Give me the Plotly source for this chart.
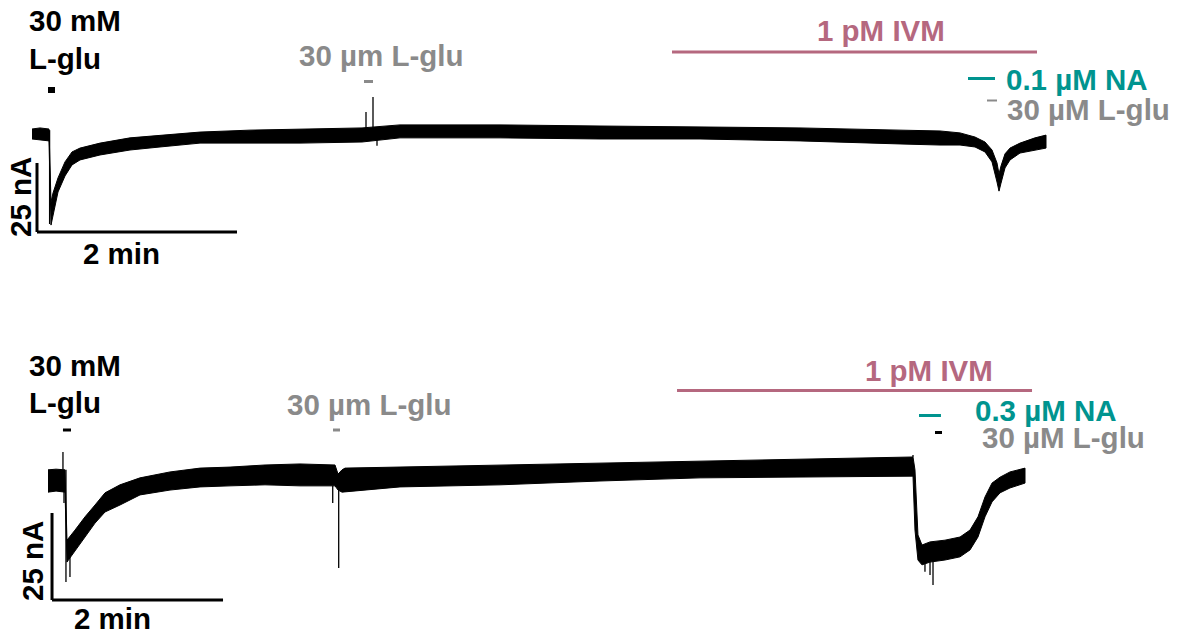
import plotly.graph_objects as go

# ---------------- DATA (time in min, current in nA relative to baseline) ----------------
# Panel A (0.1 µM NA)
tA = [0.00, 0.08, 0.17, 0.19, 0.21, 0.26, 0.33, 0.40, 0.48, 0.68, 0.98, 1.28, 1.68, 2.18, 2.68,
      3.30, 3.68, 4.68, 5.68, 6.68, 7.68, 8.68, 9.08, 9.28, 9.43, 9.53, 9.60, 9.65, 9.67, 9.69,
      9.73, 9.78, 9.88, 10.03, 10.14]
upA = [1.8, 2.2, 1.8, -24.6, -21.4, -15.9, -10.1, -6.5, -5.1, -3.3, -1.4, -0.4, 0.7, 1.4, 1.8,
       2.2, 3.3, 3.3, 2.9, 2.5, 2.2, 1.4, 1.1, 0.4, -1.1, -2.9, -5.8, -10.5, -14.5, -11.6,
       -7.2, -5.1, -3.3, -1.4, -0.4]
loA = [-1.8, -2.2, -2.5, -33.0, -29.0, -21.0, -15.2, -11.2, -9.4, -7.6, -5.8, -4.7, -3.3, -3.3, -3.3,
       -2.9, -1.4, -1.4, -1.8, -1.8, -2.5, -3.6, -4.0, -4.0, -4.7, -6.5, -10.1, -17.4, -20.7, -17.8,
       -12.3, -9.4, -6.9, -5.8, -5.1]
spikeA_t = [0.176, 3.34, 3.41, 3.45]
spikeA_from = [1.4, -0.5, -0.5, -2.0]
spikeA_to = [-32.6, 8.0, 13.4, -4.3]

# Panel B (0.3 µM NA)
tB = [0.000, 0.094, 0.199, 0.222, 0.316, 0.433, 0.550, 0.667, 0.842, 1.076, 1.427, 1.778, 2.129,
      2.538, 2.947, 3.357, 3.392, 3.439, 3.474, 4.117, 5.287, 6.456, 7.626, 8.795, 10.117, 10.140,
      10.175, 10.222, 10.316, 10.491, 10.667, 10.784, 10.877, 10.959, 11.041, 11.135, 11.251, 11.427]
upB = [3.2, 3.4, 3.2, -17.0, -14.1, -10.3, -6.9, -3.4, -1.1, 0.9, 2.6, 3.7, 4.0,
       4.6, 4.9, 4.6, 2.0, 3.2, 3.7, 4.0, 4.6, 5.2, 5.7, 6.3, 6.9, 3.2,
       -15.5, -18.4, -17.5, -17.0, -16.1, -14.1, -10.3, -4.6, -0.6, 1.1, 2.6, 3.7]
loB = [-3.2, -2.9, -3.2, -23.3, -19.8, -16.1, -12.1, -8.9, -6.9, -4.0, -2.6, -1.7, -1.4,
       -1.1, -1.4, -1.4, -2.6, -3.2, -3.2, -1.7, -1.1, 0.0, 0.9, 1.1, 1.4, -14.1,
       -22.7, -24.1, -23.3, -22.7, -21.8, -19.8, -16.1, -10.3, -6.0, -3.4, -2.0, -0.6]
spikeB_t = [0.175, 0.187, 0.21, 0.257, 3.33, 3.40, 10.117, 10.257, 10.316, 10.351]
spikeB_from = [3.2, -3.0, 3.2, -20.0, -1.4, -1.4, 6.9, -23.0, -23.0, -23.0]
spikeB_to = [8.3, -6.3, -29.0, -27.6, -6.3, -25.0, 7.5, -26.1, -27.0, -29.9]

# drug application bars: (start, end) in min
appA = {"glu30mM": (0.16, 0.23), "glu30uM": (3.32, 3.41), "ivm": (6.40, 10.05),
        "na": (9.36, 9.63), "glu_end": (9.55, 9.65)}
appB = {"glu30mM": (0.175, 0.269), "glu30uM": (3.333, 3.415), "ivm": (7.357, 11.509),
        "na": (10.187, 10.444), "glu_end": (10.374, 10.456)}

# ---------------- STYLE / LAYOUT ----------------
W, H = 1180, 637
PINK = "#b5687f"
TEAL = "#00948f"
GREY = "#8a8a8a"
FONT = "Liberation Sans, Arial, sans-serif"
FS = 29.5


def px(x):
    return x / W


def py(y):
    return 1 - y / H


# pixel scales for each panel
A = dict(x0=32, ppm=100.0, y0=134, ppn=2.76, top=0, bot=270)
B = dict(x0=48, ppm=85.5, y0=481, ppn=3.48, top=330, bot=637)


def xr(p):
    return [-p["x0"] / p["ppm"], (W - p["x0"]) / p["ppm"]]


def yr(p):
    return [(p["y0"] - p["bot"]) / p["ppn"], (p["y0"] - p["top"]) / p["ppn"]]


def ydom(p):
    return [py(p["bot"]), py(p["top"])]


fig = go.Figure()


def add_trace(t, up, lo, st, sf, stt, xa, ya):
    fig.add_trace(go.Scatter(x=t + t[::-1], y=up + lo[::-1], fill="toself",
                             fillcolor="black", mode="lines",
                             line=dict(color="black", width=1),
                             xaxis=xa, yaxis=ya, hoverinfo="skip", showlegend=False))
    xs, ys = [], []
    for a, b, c in zip(st, sf, stt):
        xs += [a, a, None]
        ys += [b, c, None]
    fig.add_trace(go.Scatter(x=xs, y=ys, mode="lines", line=dict(color="black", width=1.3),
                             xaxis=xa, yaxis=ya, hoverinfo="skip", showlegend=False))


add_trace(tA, upA, loA, spikeA_t, spikeA_from, spikeA_to, "x", "y")
add_trace(tB, upB, loB, spikeB_t, spikeB_from, spikeB_to, "x2", "y2")

shapes = []


def bar(xref, span, ypix, color, width):
    shapes.append(dict(type="line", xref=xref, yref="paper", x0=span[0], x1=span[1],
                       y0=py(ypix), y1=py(ypix), line=dict(color=color, width=width)))


# panel A application bars
bar("x", appA["glu30mM"], 90, "black", 6)
bar("x", appA["glu30uM"], 81.5, GREY, 3)
bar("x", appA["ivm"], 52, PINK, 3)
bar("x", appA["na"], 78.5, TEAL, 3)
bar("x", appA["glu_end"], 100.5, GREY, 2)
# panel B application bars
bar("x2", appB["glu30mM"], 430, "black", 3)
bar("x2", appB["glu30uM"], 430, GREY, 3)
bar("x2", appB["ivm"], 390.5, PINK, 3)
bar("x2", appB["na"], 415.5, TEAL, 3)
bar("x2", appB["glu_end"], 432.5, "black", 3)

# scale bars: 2 min x 25 nA
SB_T, SB_I = 2.0, 25.0
for xa, ya, t0, itop in (("x", "y", 0.05, -10.5), ("x2", "y2", 0.047, -9.2)):
    shapes.append(dict(type="line", xref=xa, yref=ya, x0=t0, x1=t0, y0=itop, y1=itop - SB_I,
                       line=dict(color="black", width=3)))
    shapes.append(dict(type="line", xref=xa, yref=ya, x0=t0, x1=t0 + SB_T,
                       y0=itop - SB_I, y1=itop - SB_I, line=dict(color="black", width=3)))

ann = []


def txt(s, x, y, color="black", anchor="left", angle=0, yanchor="middle"):
    ann.append(dict(text="<b>%s</b>" % s, x=px(x), y=py(y), xref="paper", yref="paper",
                    xanchor=anchor, yanchor=yanchor, showarrow=False, textangle=angle,
                    borderpad=0, font=dict(family=FONT, size=FS, color=color)))


# panel A text
txt("30 mM", 28, 21)
txt("L-glu", 28, 58)
txt("30 µm L-glu", 381, 55, GREY, "center")
txt("1 pM IVM", 881, 31, PINK, "center")
txt("0.1 µM NA", 1005, 79, TEAL)
txt("30 µM L-glu", 1006, 109, GREY)
txt("25 nA", 20, 197, angle=-90, anchor="center")
txt("2 min", 122, 254, anchor="center")
# panel B text
txt("30 mM", 28, 365)
txt("L-glu", 28, 402)
txt("30 µm L-glu", 369, 405, GREY, "center")
txt("1 pM IVM", 929, 370, PINK, "center")
txt("0.3 µM NA", 974, 410, TEAL)
txt("30 µM L-glu", 981, 437, GREY)
txt("25 nA", 32, 561, angle=-90, anchor="center")
txt("2 min", 112, 636, anchor="center", yanchor="bottom")

ax_hidden = dict(visible=False, showgrid=False, zeroline=False, fixedrange=True)
fig.update_layout(
    width=W, height=H, margin=dict(l=0, r=0, t=0, b=0),
    paper_bgcolor="white", plot_bgcolor="white", showlegend=False,
    xaxis=dict(ax_hidden, domain=[0, 1], range=xr(A), anchor="y"),
    yaxis=dict(ax_hidden, domain=ydom(A), range=yr(A), anchor="x"),
    xaxis2=dict(ax_hidden, domain=[0, 1], range=xr(B), anchor="y2"),
    yaxis2=dict(ax_hidden, domain=ydom(B), range=yr(B), anchor="x2"),
    shapes=shapes, annotations=ann,
)

fig.write_html("out.html")
